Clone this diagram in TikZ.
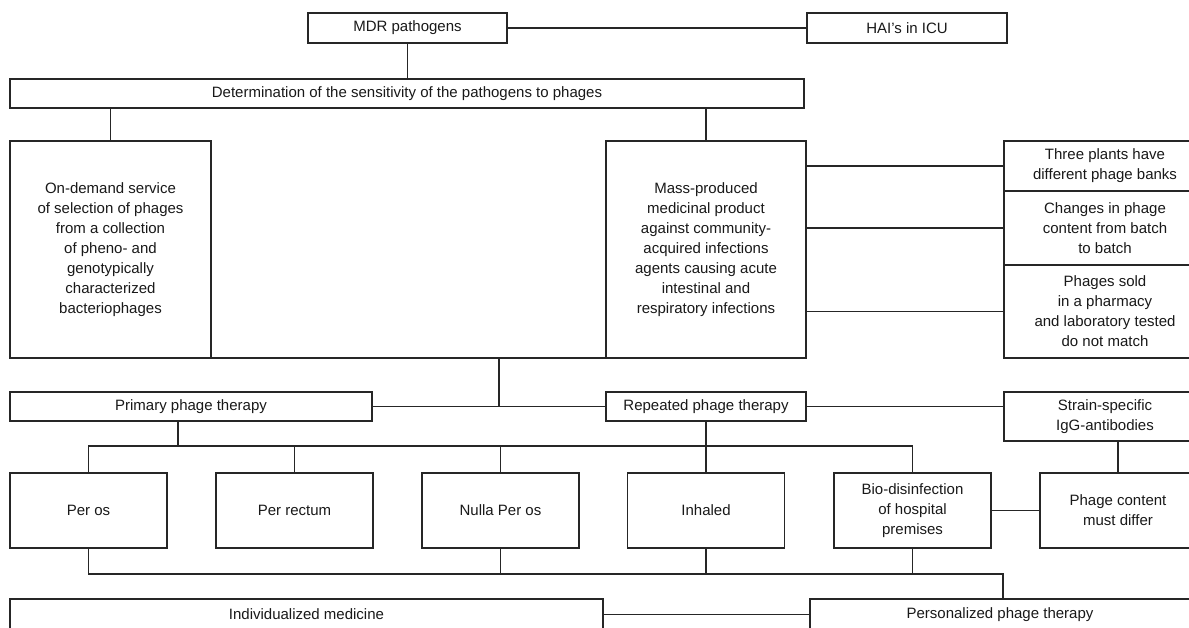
\documentclass[tikz,border=0pt]{standalone}
\usepackage{fontspec}
\setmainfont{Liberation Sans}
\usepackage{tikz}
\usetikzlibrary{positioning}

\begin{document}
\begin{tikzpicture}[x=1pt,y=-1pt]
  \tikzset{BoxStyle/.style = {
    shape         = rectangle,
    draw          = black!85,
    fill          = white,
    line width    = 1.1pt,
    text          = black!90,
    inner sep     = 0pt,
    outer sep     = 0pt,
    align         = center,
    font          = \fontsize{15}{20}\selectfont
    }
  }
  \tikzset{EdgeStyle/.style = {
    draw          = black!85,
    line width    = 1.1pt
    }
  }

  \useasboundingbox (0,0) rectangle (1189,627);
  \clip (0,0) rectangle (1189,627);

	\node[BoxStyle,minimum width=199pt,minimum height=30pt](MDR) at (407.5, 28) {MDR pathogens};
	\node[BoxStyle,minimum width=200pt,minimum height=30pt](HAI) at (907, 28) {HAI's in ICU};
	\node[BoxStyle,minimum width=794pt,minimum height=29pt](Det) at (407, 93.5) {Determination of the sensitivity of the pathogens to phages};
	\node[BoxStyle,minimum width=201pt,minimum height=217pt](OnDem) at (110.5, 249.5) {On-demand service\\of selection of phages\\from a collection\\of pheno- and\\genotypically\\characterized\\bacteriophages};
	\node[BoxStyle,minimum width=200pt,minimum height=217pt](Mass) at (706, 249.5) {Mass-produced\\medicinal product\\against community-\\acquired infections\\agents causing acute\\intestinal and\\respiratory infections};
	\node[BoxStyle,minimum width=202pt,minimum height=50pt](Plants) at (1105, 166) {Three plants have\\different phage banks};
	\node[BoxStyle,minimum width=202pt,minimum height=74pt](Changes) at (1105, 228) {Changes in phage\\content from batch\\to batch};
	\node[BoxStyle,minimum width=202pt,minimum height=93pt](Sold) at (1105, 311.5) {Phages sold\\in a pharmacy\\and laboratory tested\\do not match};
	\node[BoxStyle,minimum width=362pt,minimum height=29pt](Primary) at (191, 406.5) {Primary phage therapy};
	\node[BoxStyle,minimum width=200pt,minimum height=29pt](Repeated) at (706, 406.5) {Repeated phage therapy};
	\node[BoxStyle,minimum width=202pt,minimum height=49pt](Strain) at (1105, 416.5) {Strain-specific\\IgG-antibodies};
	\node[BoxStyle,minimum width=157pt,minimum height=75pt](PerOs) at (88.5, 510.5) {Per os};
	\node[BoxStyle,minimum width=157pt,minimum height=75pt](PerRect) at (294.5, 510.5) {Per rectum};
	\node[BoxStyle,minimum width=157pt,minimum height=75pt](Nulla) at (500.5, 510.5) {Nulla Per os};
	\node[BoxStyle,minimum width=157pt,minimum height=75pt](Inhaled) at (706, 510.5) {Inhaled};
	\node[BoxStyle,minimum width=157pt,minimum height=75pt](Bio) at (912.5, 510.5) {Bio-disinfection\\of hospital\\premises};
	\node[BoxStyle,minimum width=156pt,minimum height=75pt](Phage) at (1118, 510.5) {Phage content\\must differ};
	\node[BoxStyle,minimum width=593pt,minimum height=31pt](Indiv) at (306.5, 614.5) {Individualized medicine};
	\node[BoxStyle,minimum width=380pt,minimum height=31pt](Personal) at (1000, 614.5) {Personalized phage therapy};

	\coordinate (Jtop) at (499, 358);
	\coordinate (Jmid) at (499, 406.5);
	\coordinate (T1) at (178, 446);
	\coordinate (B1) at (1003, 574);

	\draw[EdgeStyle](MDR) to (HAI);
	\draw[EdgeStyle](MDR.south) to (MDR.south |- Det.north);
	\draw[EdgeStyle](OnDem.north |- Det.south) to (OnDem.north);
	\draw[EdgeStyle](Mass.north |- Det.south) to (Mass.north);
	\draw[EdgeStyle](Mass.east |- Plants) to (Plants.west);
	\draw[EdgeStyle](Mass.east |- Changes) to (Changes.west);
	\draw[EdgeStyle](Mass.east |- Sold) to (Sold.west);
	\draw[EdgeStyle](OnDem.south east) to (Mass.south west);
	\draw[EdgeStyle](Jtop) to (Jmid);
	\draw[EdgeStyle](Primary) to (Repeated);
	\draw[EdgeStyle](Repeated.east) to (Repeated.east -| Strain.west);
	\draw[EdgeStyle](Phage.north |- Strain.south) to (Phage.north);
	\draw[EdgeStyle](Bio) to (Phage);
	\draw[EdgeStyle](T1 |- Primary.south) to (T1);
	\draw[EdgeStyle](PerOs.north) -- (PerOs.north |- T1) -- (Bio.north |- T1) -- (Bio.north);
	\draw[EdgeStyle](PerRect.north |- T1) to (PerRect.north);
	\draw[EdgeStyle](Nulla.north |- T1) to (Nulla.north);
	\draw[EdgeStyle](Repeated) to (Inhaled);
	\draw[EdgeStyle](PerOs.south) -- (PerOs.south |- B1) -- (B1) -- (B1 |- Personal.north);
	\draw[EdgeStyle](Nulla.south) to (Nulla.south |- B1);
	\draw[EdgeStyle](Inhaled.south) to (Inhaled.south |- B1);
	\draw[EdgeStyle](Bio.south) to (Bio.south |- B1);
	\draw[EdgeStyle](Indiv) to (Personal);

  \end{tikzpicture}
\end{document}
